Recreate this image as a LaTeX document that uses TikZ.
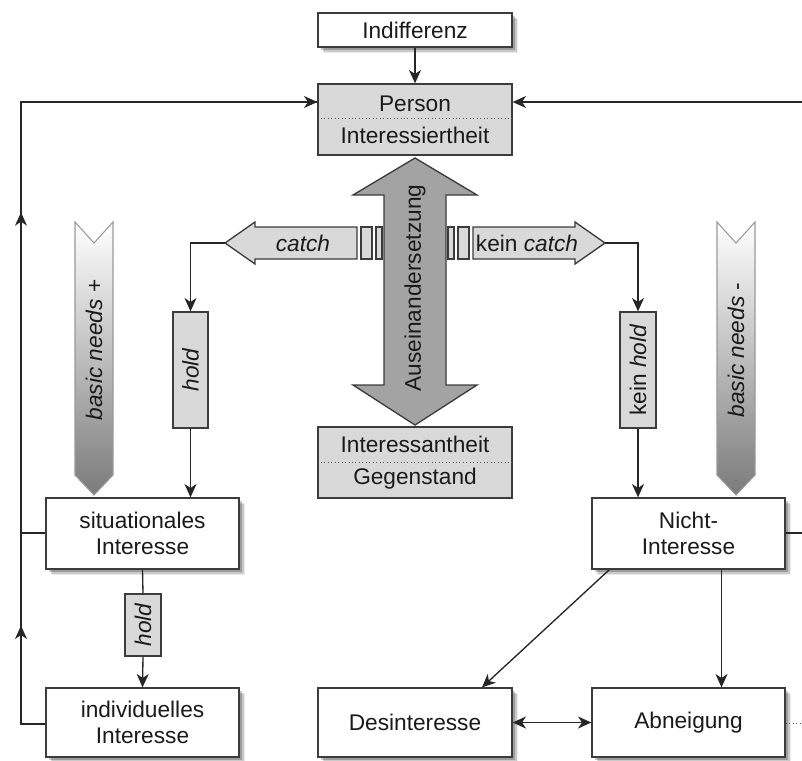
\documentclass[tikz,border=0pt]{standalone}
\usepackage{fontspec}
\setmainfont{Liberation Sans}
\usetikzlibrary{arrows.meta,shadows,calc,decorations.markings}
\definecolor{boxgray}{HTML}{D9D9D9}
\definecolor{biggray}{HTML}{A3A3A3}
\definecolor{linec}{HTML}{262626}
\definecolor{borderc}{HTML}{3C3C3C}
\definecolor{txtc}{HTML}{1A1A1A}
\begin{document}
\begin{tikzpicture}[x=0.75pt,y=-0.75pt,
  font=\fontsize{17}{20}\selectfont, text=txtc,
  sz/.style 2 args={minimum width=#1*0.75pt, minimum height=#2*0.75pt},
  tip/.style={-{Stealth[length=10pt,width=9pt,inset=3pt]}},
  conn/.style={draw=linec, line width=1pt, tip},
  plain/.style={draw=linec, line width=1pt},
  shade/.style={
    general shadow={shadow xshift=4.5pt, shadow yshift=-4.5pt, fill=black, opacity=0.08},
    general shadow={shadow xshift=3.5pt, shadow yshift=-3.5pt, fill=black, opacity=0.14},
    general shadow={shadow xshift=2.5pt, shadow yshift=-2.5pt, fill=black, opacity=0.22}},
  wbox/.style={draw=borderc, line width=1pt, fill=white, inner sep=0pt, align=center, shade},
  gbox/.style={draw=borderc, line width=1pt, fill=boxgray, inner sep=0pt, align=center},
  sep/.style={draw=gray!70!black, line width=0.6pt, dotted},
  chev/.style={draw=gray!80, line width=0.8pt, top color=white, bottom color=gray!85!black!90},
  bigarrow/.style={draw=borderc, line width=1pt, fill=biggray},
  smallarrow/.style={draw=borderc, line width=1pt, fill=boxgray},
]
\useasboundingbox[fill=white] (0,0) rectangle (802,760);

% ---------- boxes ----------
\node[wbox, sz={194}{34}] (indiff) at (415,30) {Indifferenz};
\node[gbox, sz={194}{71}] (person) at (415,119.5) {Person\\[4pt]Interessiertheit};
\draw[sep] ($(person.west)+(0,-1)$) -- ($(person.east)+(0,-1)$);
\node[gbox, sz={194}{71}] (gegen) at (415,462.5) {Interessantheit\\[4pt]Gegenstand};
\draw[sep] ($(gegen.west)+(0,-0.5)$) -- ($(gegen.east)+(0,-0.5)$);

\node[wbox, sz={193}{71}] (sit) at (142.5,533.5) {situationales\\Interesse};
\node[wbox, sz={193}{69}] (ind) at (142.5,722.5) {individuelles\\Interesse};
\node[wbox, sz={193}{71}] (nicht) at (688.5,533.5) {Nicht-\\Interesse};
\node[wbox, sz={194}{69}] (des) at (415,722.5) {Desinteresse};
\node[wbox, sz={193}{69}] (abn) at (688.5,722.5) {Abneigung};

\node[gbox, sz={35}{116}] (hold1) at (190.5,370) {};
\node[rotate=90, font=\fontsize{17}{20}\selectfont\itshape] at (hold1.center) {hold};
\node[gbox, sz={36}{116}] (khold) at (638,370) {};
\node[rotate=90] at (khold.center) {kein \textit{hold}};
\node[gbox, sz={36}{62}] (hold2) at (143,625) {};
\node[rotate=90, font=\fontsize{17}{20}\selectfont\itshape] at (hold2.center) {hold};

% ---------- chevrons (basic needs) ----------
\path[chev] (75,222) -- (94,243) -- (113,222) -- (113,475) -- (94,495) -- (75,475) -- cycle;
\node[rotate=90] (bnp) at (94,350) {\textit{basic needs} +};
\path[chev] (717,222) -- (736,243) -- (755,222) -- (755,475) -- (736,495) -- (717,475) -- cycle;
\node[rotate=90] (bnm) at (736,350) {\textit{basic needs} -};

% ---------- catch arrows with stripes ----------
\path[smallarrow] (361,227) rectangle (372,259);
\path[smallarrow] (376,227) rectangle (382,259);
\path[smallarrow] (448,227) rectangle (454,259);
\path[smallarrow] (458,227) rectangle (469,259);
\path[smallarrow] (225,243) -- (255,222) -- (255,227) -- (357,227) -- (357,259) -- (255,259) -- (255,264) -- cycle;
\coordinate (catchtip) at (225,243);
\node (catch) at (303,243) {\textit{catch}};
\path[smallarrow] (605,243) -- (575,222) -- (575,227) -- (473,227) -- (473,259) -- (575,259) -- (575,264) -- cycle;
\coordinate (kcatchtip) at (605,243);
\node (kcatch) at (527,243) {kein \textit{catch}};

% ---------- big double arrow ----------
\path[bigarrow] (415,158) -- (477,195) -- (446,195) -- (446,385) -- (477,385) -- (415,425)
  -- (353,385) -- (384,385) -- (384,195) -- (353,195) -- cycle;
\node[rotate=90] (ausein) at (415,288) {Auseinandersetzung};

% ---------- connectors ----------
\draw[conn] (indiff.south) -- (person.north);
\draw[conn] (catchtip) -| (hold1.north);
\draw[conn] (hold1.south) -- (hold1.south |- sit.north);
\draw[conn] (kcatchtip) -| (khold.north);
\draw[conn] (khold.south) -- (khold.south |- nicht.north);
\draw[plain] (sit.south) -- (hold2.north);
\draw[conn] (hold2.south) -- (ind.north);

% left feedback loop
\coordinate (LB) at (21,724);
\coordinate (LT) at (21,102);
\coordinate (LS) at (21,533);
\draw[plain, postaction={decorate}, decoration={markings,
    mark=at position 92pt with {\arrow{Stealth[length=10pt,width=9pt,inset=3pt]}},
    mark=at position 402pt with {\arrow{Stealth[length=10pt,width=9pt,inset=3pt]}}}]
  (ind.west |- LB) -- (LB) -- (LT) -- (LT -| person.west);
\draw[conn] ($(LT)+(250,0)$) -- (LT -| person.west);
\draw[plain] (sit.west |- LS) -- (LS);

% right side
\coordinate (RT) at (802,102);
\draw[conn] (RT) -- (RT -| person.east);
\coordinate (RN) at (802,533);
\draw[plain] (nicht.east |- RN) -- (RN);
\coordinate (RA) at (802,723);
\draw[sep] (abn.east |- RA) -- (RA);

% bottom
\draw[conn] ($(nicht.south west)+(18,0)$) -- ($(des.north)+(67,0)$);
\draw[conn] ($(nicht.south)+(33,0)$) -- ($(abn.north)+(33,0)$);
\draw[draw=linec, line width=1pt, {Stealth[length=10pt,width=9pt,inset=3pt]}-{Stealth[length=10pt,width=9pt,inset=3pt]}] (des.east) -- (abn.west);
\end{tikzpicture}
\end{document}
